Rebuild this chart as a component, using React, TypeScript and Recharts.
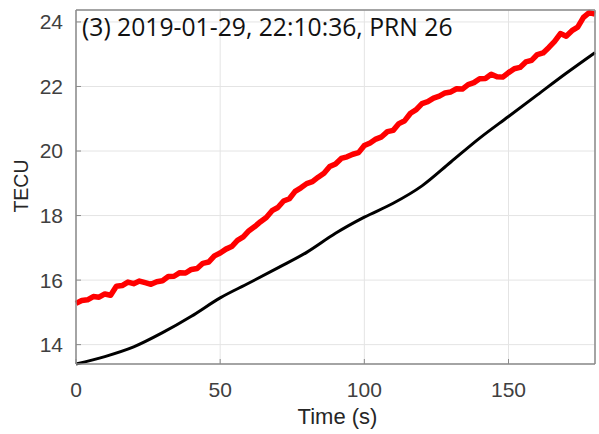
import { LineChart, Line, XAxis, YAxis, CartesianGrid } from 'recharts';

// red curve: TEC samples (every 2 s)
const redTime = [
  0, 2, 4, 6, 8, 10, 12, 14, 16, 18, 20, 22, 24, 26, 28, 30, 32, 34, 36, 38,
  40, 42, 44, 46, 48, 50, 52, 54, 56, 58, 60, 62, 64, 66, 68, 70, 72, 74, 76, 78,
  80, 82, 84, 86, 88, 90, 92, 94, 96, 98, 100, 102, 104, 106, 108, 110, 112, 114, 116, 118,
  120, 122, 124, 126, 128, 130, 132, 134, 136, 138, 140, 142, 144, 146, 148, 150, 152, 154, 156, 158,
  160, 162, 164, 166, 168, 170, 172, 174, 176, 178, 180,
];
const redTec = [
  15.28, 15.37, 15.39, 15.49, 15.47, 15.57, 15.53, 15.81, 15.83, 15.94, 15.89, 15.97, 15.92, 15.87, 15.95, 15.98, 16.11, 16.12, 16.23, 16.22,
  16.33, 16.36, 16.52, 16.56, 16.75, 16.84, 16.96, 17.04, 17.23, 17.34, 17.53, 17.66, 17.81, 17.94, 18.15, 18.25, 18.45, 18.52, 18.75, 18.86,
  18.99, 19.05, 19.19, 19.31, 19.52, 19.60, 19.77, 19.82, 19.90, 19.95, 20.17, 20.25, 20.37, 20.44, 20.60, 20.64, 20.85, 20.94, 21.17, 21.28,
  21.47, 21.53, 21.64, 21.70, 21.80, 21.83, 21.93, 21.92, 22.06, 22.12, 22.24, 22.25, 22.38, 22.30, 22.29, 22.43, 22.55, 22.59, 22.76, 22.81,
  22.99, 23.04, 23.21, 23.40, 23.64, 23.56, 23.73, 23.84, 24.14, 24.29, 24.24,
];

// black curve: smooth model (every 10 s)
const blackTime = [0, 10, 20, 30, 40, 50, 60, 70, 80, 90, 100, 110, 120, 130, 140, 150, 160, 170, 180];
const blackTec = [
  13.40, 13.63, 13.93, 14.37, 14.88, 15.45, 15.91, 16.38, 16.86, 17.45,
  17.95, 18.38, 18.92, 19.66, 20.40, 21.07, 21.74, 22.41, 23.05,
];

const xTicks = [0, 50, 100, 150];
const yTicks = [14, 16, 18, 20, 22, 24];
const title = '(3) 2019-01-29, 22:10:36, PRN 26';

const redData = redTime.map((t, i) => ({ t, tec: redTec[i] }));
const blackData = blackTime.map((t, i) => ({ t, tec: blackTec[i] }));

const axisColor = '#8a8a8a';
const tickStyle = { fontSize: 21, fill: '#404040', fontFamily: '"Liberation Sans", Arial, sans-serif' };

export default function App() {
  return (
    <div style={{ position: 'absolute', left: 0, top: 0, width: 599, height: 434, background: '#fff' }}>
      <LineChart width={599} height={434} margin={{ top: 9, right: 3, left: 0, bottom: 0 }}>
        <CartesianGrid stroke="#e4e4e4" strokeWidth={1} />
        <XAxis
          type="number"
          dataKey="t"
          domain={[0, 180]}
          ticks={xTicks}
          height={70}
          tick={tickStyle}
          tickSize={-5}
          tickMargin={23}
          axisLine={{ stroke: axisColor, strokeWidth: 1.5 }}
          tickLine={{ stroke: axisColor }}
        />
        <XAxis
          xAxisId="top"
          orientation="top"
          type="number"
          dataKey="t"
          domain={[0, 180]}
          ticks={xTicks}
          height={1}
          tick={false}
          tickSize={-5}
          axisLine={{ stroke: axisColor, strokeWidth: 1.5 }}
          tickLine={{ stroke: axisColor }}
        />
        <YAxis
          type="number"
          domain={[13.4, 24.37]}
          ticks={yTicks}
          width={76}
          tick={tickStyle}
          tickSize={-5}
          tickMargin={18}
          axisLine={{ stroke: axisColor, strokeWidth: 1.5 }}
          tickLine={{ stroke: axisColor }}
        />
        <YAxis
          yAxisId="right"
          orientation="right"
          type="number"
          domain={[13.4, 24.37]}
          ticks={yTicks}
          width={1}
          tick={false}
          tickSize={-5}
          axisLine={{ stroke: axisColor, strokeWidth: 1.5 }}
          tickLine={{ stroke: axisColor }}
        />
        <Line
          data={blackData}
          dataKey="tec"
          type="monotone"
          stroke="#000000"
          strokeWidth={3}
          dot={false}
          isAnimationActive={false}
        />
        <Line
          data={redData}
          dataKey="tec"
          type="linear"
          stroke="#ff0000"
          strokeWidth={5.5}
          strokeLinejoin="round"
          dot={false}
          isAnimationActive={false}
        />
      </LineChart>
      <div
        style={{
          position: 'absolute', left: 82, top: 9, fontFamily: '"Open Sans", sans-serif',
          fontSize: 24.7, color: '#111', whiteSpace: 'nowrap', lineHeight: '36px',
        }}
      >
        {title}
      </div>
      <div
        style={{
          position: 'absolute', left: 21, top: 186, transform: 'translate(-50%, -50%) rotate(-90deg)',
          fontFamily: '"Liberation Sans", Arial, sans-serif', fontSize: 19.5, color: '#262626', whiteSpace: 'nowrap',
        }}
      >
        TECU
      </div>
      <div
        style={{
          position: 'absolute', left: 337.5, top: 406, transform: 'translateX(-50%)', lineHeight: '22px',
          fontFamily: '"Liberation Sans", Arial, sans-serif', fontSize: 22, color: '#262626', whiteSpace: 'nowrap',
        }}
      >
        Time (s)
      </div>
    </div>
  );
}
